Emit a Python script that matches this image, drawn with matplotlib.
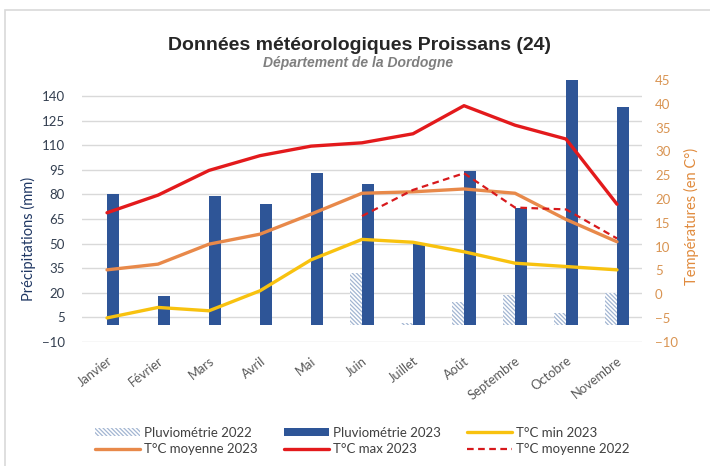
import numpy as np
import matplotlib
matplotlib.use("Agg")
import matplotlib.pyplot as plt
import matplotlib.transforms as mtransforms
from matplotlib.patches import Rectangle

months = ["Janvier", "Février", "Mars", "Avril", "Mai", "Juin", "Juillet",
          "Août", "Septembre", "Octobre", "Novembre"]
pluie_2022 = [np.nan, np.nan, np.nan, np.nan, np.nan, 32, 1.4, 14.2, 18.3, 7.5, 19.9]
pluie_2023 = [80, 18, 79, 74, 93, 86.5, 50.5, 94.5, 72, 151, 133.5]
tmin_2023 = [-5.0, -2.8, -3.5, 0.7, 7.2, 11.5, 10.9, 8.9, 6.5, 5.8, 5.1]
tmoy_2023 = [5.1, 6.3, 10.5, 12.6, 16.8, 21.2, 21.5, 22.1, 21.2, 15.7, 11.0]
tmax_2023 = [17.1, 20.8, 26.0, 29.1, 31.1, 31.8, 33.7, 39.6, 35.5, 32.6, 18.9]
tmoy_2022 = [np.nan, np.nan, np.nan, np.nan, np.nan, 16.4, 21.9, 25.4, 18.2, 17.8, 11.7]
left_ticks = list(range(-10, 141, 15))
right_ticks = list(range(-10, 46, 5))

plt.rcParams['font.family'] = ['Lato', 'DejaVu Sans']
plt.rcParams['hatch.linewidth'] = 0.9

W, H = 710, 466
fig = plt.figure(figsize=(W / 100, H / 100), dpi=100)
fig.patch.set_facecolor("white")

L, R, T, B = 81.5, 642.5, 80, 341.7
ax = fig.add_axes([L / W, 1 - B / H, (R - L) / W, (B - T) / H])
ax2 = ax.twinx()

x = np.arange(len(months))
bw = 0.245
blue = "#2E5597"
ax.bar(x - bw / 2, pluie_2022, width=bw, color="white", edgecolor="#A3B6D2",
       hatch="\\\\\\\\\\\\\\\\", linewidth=0, label="Pluviométrie 2022", zorder=2)
ax.bar(x + bw / 2, pluie_2023, width=bw, color=blue, label="Pluviométrie 2023", zorder=2)

ax.set_xlim(-0.5, len(months) - 0.5)
ax.set_ylim(-10, 150)
ax.set_yticks(left_ticks)
ax.grid(axis="y", color="#D9D9D9", linewidth=1, zorder=0)
ax.set_axisbelow(True)
for s in ax.spines.values():
    s.set_visible(False)
for s in ax2.spines.values():
    s.set_visible(False)
ax.tick_params(axis="y", length=0, pad=12, labelsize=9.5, labelcolor="#333F50")
ax.tick_params(axis="x", length=0)
ax.set_xticks(x)
ax.set_xticklabels(months, rotation=38, ha="right", va="top", rotation_mode="anchor",
                   fontsize=9.3, color="#595959")
offset = mtransforms.ScaledTranslation(0 / 100, -8 / 100, fig.dpi_scale_trans)
for lbl in ax.get_xticklabels():
    lbl.set_transform(lbl.get_transform() + offset)

ax2.set_ylim(-10, 45)
ax2.set_yticks(right_ticks)
ax2.tick_params(axis="y", length=0, pad=9, labelsize=9.5, labelcolor="#D99452")

l_min, = ax2.plot(x, tmin_2023, color="#F8C20F", lw=2.4, label="T°C min 2023",
                  solid_capstyle="round", zorder=3)
l_moy, = ax2.plot(x, tmoy_2023, color="#E8894A", lw=2.4, label="T°C moyenne 2023",
                  solid_capstyle="round", zorder=3)
l_max, = ax2.plot(x, tmax_2023, color="#E31A1C", lw=2.4, label="T°C max 2023",
                  solid_capstyle="round", zorder=3)
l_m22, = ax2.plot(x, tmoy_2022, color="#D7191C", lw=1.6, ls=(0, (3, 2)),
                  label="T°C moyenne 2022", zorder=3)

fig.text(28 / W, 1 - 239 / H, "Précipitations (mm)", rotation=90, ha="center", va="center",
         fontsize=10.5, color="#203864")
fig.text(691 / W, 1 - 216 / H, "Températures (en C°)", rotation=90, ha="center", va="center",
         fontsize=10.5, color="#E08A3C")

fig.text(359 / W, 1 - 45 / H, "Données météorologiques Proissans (24)", ha="center", va="center",
         fontsize=14, fontweight="bold", color="#262626", family="Liberation Sans")
fig.text(358 / W, 1 - 63.5 / H, "Département de la Dordogne", ha="center", va="center",
         fontsize=10, fontweight="bold", style="italic", color="#7F7F7F", family="Liberation Sans")

h1, lab1 = ax.get_legend_handles_labels()
handles = [h1[0], l_moy, h1[1], l_max, l_min, l_m22]
labels = ["Pluviométrie 2022", "T°C moyenne 2023", "Pluviométrie 2023", "T°C max 2023",
          "T°C min 2023", "T°C moyenne 2022"]
leg = fig.legend(handles, labels, ncol=3, loc="center", bbox_to_anchor=(362 / W, 1 - 441 / H),
                 frameon=False, fontsize=9.5, handlelength=3.4, handleheight=0.55,
                 columnspacing=2.0, handletextpad=0.3, labelspacing=0.35, borderpad=0)
for t in leg.get_texts():
    t.set_color("#404040")

fig.patches.append(Rectangle((5 / W, -0.01), 1.0, 1 - 10 / H + 0.01, transform=fig.transFigure,
                             fill=False, edgecolor="#D9D9D9", linewidth=1.2))

fig.savefig("out.png", dpi=100, facecolor="white")
